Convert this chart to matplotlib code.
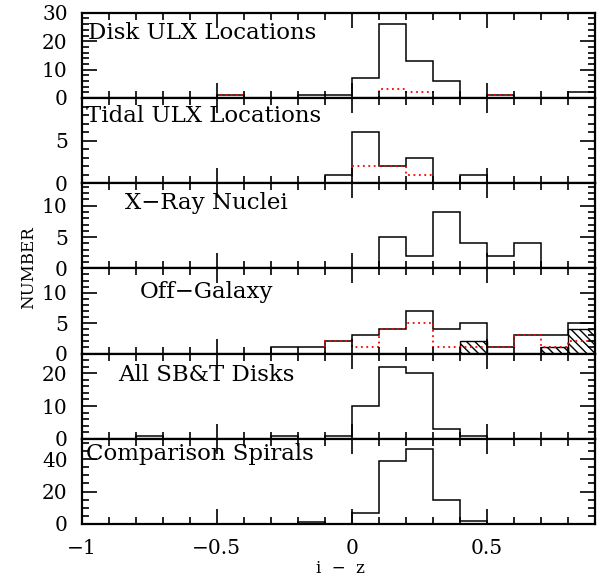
import numpy as np
import matplotlib.pyplot as plt
from matplotlib.ticker import MultipleLocator

# bin edges in i-z, -1.0 .. 0.9, width 0.1
edges = np.linspace(-1.0, 0.9, 20)

disk_all = [0, 0, 0, 0, 0, 1, 0, 0, 1, 1, 7, 26, 13, 6, 0, 1, 0, 0, 2]
disk_red = [0, 0, 0, 0, 0, 1, 0, 0, 0, 0, 0, 3, 2, 0, 0, 1, 0, 0, 0]
tidal_all = [0, 0, 0, 0, 0, 0, 0, 0, 0, 1, 6, 2, 3, 0, 1, 0, 0, 0, 0]
tidal_red = [0, 0, 0, 0, 0, 0, 0, 0, 0, 0, 2, 2, 1, 0, 0, 0, 0, 0, 0]
xray_nuc = [0, 0, 0, 0, 0, 0, 0, 0, 0, 0, 0, 5, 2, 9, 4, 2, 4, 0, 0]
off_all = [0, 0, 0, 0, 0, 0, 0, 1, 1, 2, 3, 4, 7, 4, 5, 1, 3, 3, 5]
off_red = [0, 0, 0, 0, 0, 0, 0, 0, 0, 2, 1, 4, 5, 1, 1, 1, 3, 1, 2]
off_hatch = [0, 0, 0, 0, 0, 0, 0, 0, 0, 0, 0, 0, 0, 0, 2, 0, 0, 1, 4]
sbt_disks = [0, 0, 1, 0, 0, 0, 0, 1, 0, 1, 10, 22, 20, 3, 1, 0, 0, 0, 0]
comp_spirals = [0, 0, 0, 0, 0, 0, 0, 0, 1, 0, 7, 39, 46, 15, 2, 0, 0, 0, 0]

labels = ['Disk ULX Locations', 'Tidal ULX Locations', 'X\u2212Ray Nuclei',
          'Off\u2212Galaxy', 'All SB&T Disks', 'Comparison Spirals']
label_x = [0.012, 0.008, 0.084, 0.114, 0.071, 0.008]
label_y = [0.76, 0.79, 0.77, 0.725, 0.75, 0.82]
ymax = [30, 10, 13.6, 14, 26, 52.6]
yticks = [[0, 10, 20, 30], [0, 5], [0, 5, 10], [0, 5, 10], [0, 10, 20], [0, 20, 40]]
yminor = [2, 1, 1, 1, 2, 5]

black = [disk_all, tidal_all, xray_nuc, off_all, sbt_disks, comp_spirals]
red = [disk_red, tidal_red, None, off_red, None, None]

plt.rcParams['font.family'] = 'DejaVu Serif'
plt.rcParams['hatch.linewidth'] = 1.0

fig = plt.figure(figsize=(6.0, 5.82), dpi=100)
left, width = 0.136, 0.855
top, bottom = 0.978, 0.0997
h = (top - bottom) / 6

for i in range(6):
    ax = fig.add_axes([left, top - (i + 1) * h, width, h])
    if i == 3:
        ax.bar(edges[:-1], off_hatch, width=0.1, align='edge', fill=False,
               hatch='\\\\\\\\', edgecolor='black', linewidth=1.0)
    ax.stairs(black[i], edges, baseline=0, color='black', linewidth=1.1)
    if red[i] is not None:
        ax.stairs(red[i], edges, baseline=0, color='red', linewidth=1.3,
                  linestyle=(0, (1, 2)))
    ax.set_xlim(-1.0, 0.9)
    ax.set_ylim(0, ymax[i])
    ax.set_yticks(yticks[i])
    ax.yaxis.set_minor_locator(MultipleLocator(yminor[i]))
    ax.xaxis.set_major_locator(MultipleLocator(0.5))
    ax.xaxis.set_minor_locator(MultipleLocator(0.1))
    ax.tick_params(which='both', direction='in', top=True, right=True,
                   width=1.2, labelsize=14.5)
    ax.tick_params(which='major', length=11)
    ax.tick_params(which='minor', length=5)
    ax.tick_params(axis='y', pad=10)
    for sp in ax.spines.values():
        sp.set_linewidth(1.6)
    if i < 5:
        ax.tick_params(labelbottom=False)
    else:
        ax.set_xticks([-1, -0.5, 0, 0.5])
        ax.set_xticklabels(['\u22121', '\u22120.5', '0', '0.5'])
        ax.tick_params(axis='x', pad=11)
    ax.text(label_x[i], label_y[i], labels[i], transform=ax.transAxes,
            ha='left', va='center', fontsize=16.5)

fig.text(0.567, 0.024, 'i  \u2212  z', ha='center', va='center', fontsize=12)
fig.text(0.047, 0.54, 'NUMBER', rotation=90, ha='center', va='center', fontsize=12)

fig.savefig('out.png', dpi=100)
